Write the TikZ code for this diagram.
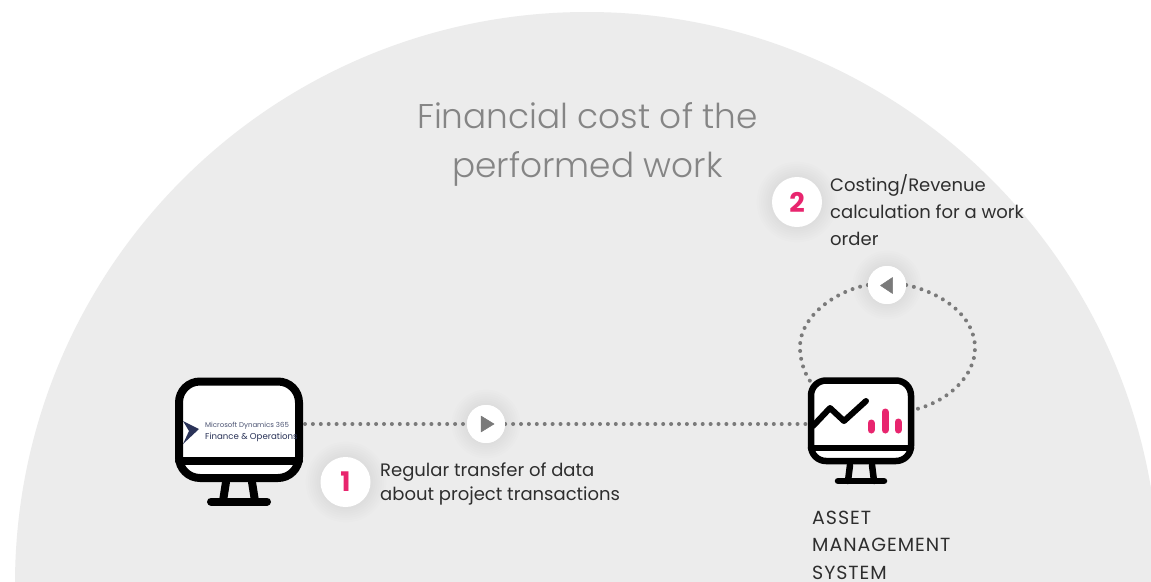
\documentclass[tikz,border=0pt]{standalone}
\usepackage{fontspec}
\setmainfont{Poppins}
\newfontfamily\lightf{Poppins Light}
\definecolor{disc}{HTML}{ECECEC}
\definecolor{dotc}{HTML}{7A7A7A}
\definecolor{pinkc}{HTML}{E8256E}
\definecolor{inkc}{HTML}{2E2E2E}
\definecolor{navyc}{HTML}{2A3358}
\tikzset{
  x=1pt,y=-1pt,
  dotline/.style={draw=dotc,line width=4pt,line cap=round,dash pattern=on 0pt off 7.9pt},
  softbtn/.style={circle,fill=white,minimum size=#1,inner sep=0pt,text=pinkc,font=\bfseries\fontsize{27}{27}\selectfont},
  body/.style={anchor=north west,inner sep=0pt,align=left,text=inkc,font=\fontsize{18}{#1}\selectfont},
  caps/.style={anchor=north west,inner sep=0pt,align=left,text=inkc,font=\addfontfeature{LetterSpace=5}\fontsize{19}{#1}\selectfont},
  frame/.style={draw=black,fill=white,rounded corners=#1,line join=round},
  stroke/.style={draw=black,line cap=round,line join=round},
  tri/.style={fill=dotc,draw=dotc,line width=0.5pt,line join=round},
}
\newcommand{\glow}[2]{\foreach \g in {1,...,7}{\fill[black,opacity=0.007] (#1) circle ({#2+\g*2.2});}}
\begin{document}
\begin{tikzpicture}
\useasboundingbox (0,0) rectangle (1151,581);
\fill[white] (0,0) rectangle (1151,581);
\begin{scope}
\clip (0,0) rectangle (1151,581);
\fill[disc] (587,584) circle (572);
\end{scope}

% title
\node[text=dotc!92!white,align=center,inner sep=0pt,anchor=center,font=\lightf\fontsize{34.3}{49}\selectfont] (title) at (587.5,144) {Financial cost of the\\performed work};

% monitor 1
\draw[frame=21pt,line width=8pt] (179,381.5) rectangle (299,478);
\draw[stroke,line width=8pt] (179,461) -- (299,461);
\draw[stroke,line width=8pt] (226,482) -- (223,501);
\draw[stroke,line width=8pt] (252,482) -- (255,501);
\draw[stroke,line width=8pt] (211,501.5) -- (267,501.5);
\node[inner sep=0pt,anchor=west,text=navyc!85!white,font=\fontsize{7}{7}\selectfont] (msA) at (205,425.5) {Microsoft Dynamics 365};
\node[inner sep=0pt,anchor=west,text=navyc,font=\fontsize{8.6}{8.6}\selectfont] (msB) at (205,437) {Finance \& Operations};
\fill[navyc] (183,421) -- (199,429) -- (183,444) -- (189,431) -- cycle;

% monitor 2
\draw[frame=15pt,line width=6.5pt] (811,380.5) rectangle (911,461);
\draw[stroke,line width=6.5pt] (811,448) -- (911,448);
\draw[stroke,line width=6.5pt] (850,465) -- (848,481);
\draw[stroke,line width=6.5pt] (872,465) -- (874,481);
\draw[stroke,line width=6.5pt] (838,481) -- (884,481);
\draw[stroke,line width=6pt] (813,426) -- (830,408) -- (844,421) -- (866,401);
\foreach \bx/\by in {871/423,885/412,898/422}{
  \draw[draw=pinkc,line width=7pt,line cap=round] (\bx,\by) -- (\bx,430);
}

% named ends
\coordinate (pcA) at (305,424);
\coordinate (amsL) at (806,424);
\coordinate (amsTL) at (810,381);
\coordinate (amsTR) at (917,409);

% buttons
\glow{486,424}{19}
\glow{887,285}{19}
\glow{346,482}{25}
\glow{797,202}{25}
\node[softbtn=38pt] (playA) at (486,424) {};
\node[softbtn=38pt] (playB) at (887,285) {};
\node[softbtn=50pt] (badgeA) at (345.5,482) {1};
\node[softbtn=50pt] (badgeB) at (797,202) {2};

% connectors
\draw[dotline] (pcA) -- (playA);
\draw[dotline] (playA) -- (amsL);
\draw[dotline] (playB.west) .. controls (838,290) and (800,315) .. (800,347) .. controls (800,360) and (804,372) .. (amsTL);
\draw[dotline] (playB.east) .. controls (940,292) and (975,315) .. (975,348) .. controls (975,375) and (950,400) .. (amsTR);
\node[softbtn=38pt] at (486,424) {};
\node[softbtn=38pt] at (887,285) {};
\fill[tri] (481,416) -- (494,424) -- (481,432) -- cycle;
\fill[tri] (892.5,277.5) -- (880.5,285.5) -- (892.5,293.5) -- cycle;

% labels
\node[body=24] (textA) at (380,463) {Regular transfer of data\\about project transactions};
\node[body=26.8] (textB) at (830,174.5) {Costing/Revenue\\calculation for a work\\order};
\node[caps=27.2] (textC) at (812,511) {ASSET\\MANAGEMENT\\SYSTEM};
\end{tikzpicture}
\end{document}
